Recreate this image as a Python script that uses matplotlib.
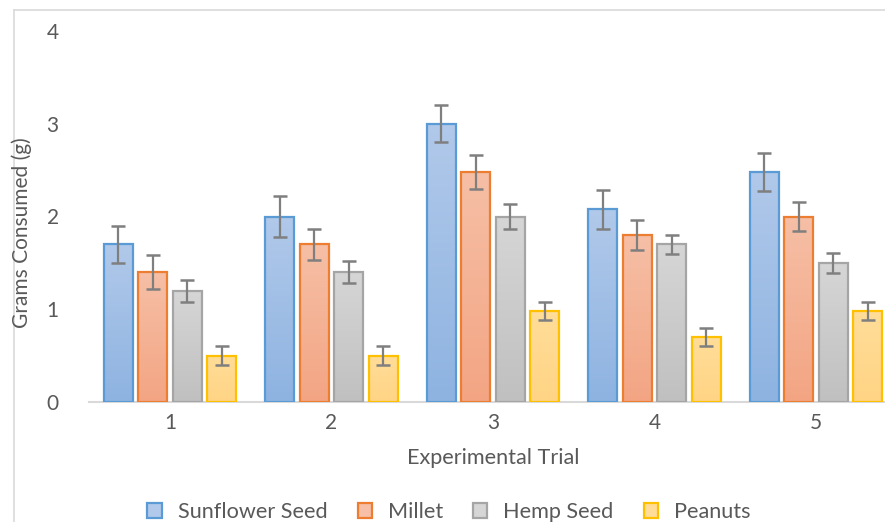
import numpy as np
import matplotlib
matplotlib.use("Agg")
import matplotlib.pyplot as plt
from matplotlib.colors import LinearSegmentedColormap
from matplotlib.patches import Patch
from matplotlib.lines import Line2D

plt.rcParams['font.family'] = ['Lato', 'DejaVu Sans']

trials = ['1', '2', '3', '4', '5']
series = ['Sunflower Seed', 'Millet', 'Hemp Seed', 'Peanuts']

sunflower = [1.7, 2.0, 3.0, 2.08, 2.48]
millet = [1.4, 1.7, 2.48, 1.8, 2.0]
hemp = [1.2, 1.4, 2.0, 1.7, 1.5]
peanuts = [0.5, 0.5, 0.98, 0.7, 0.98]

sunflower_err = [0.2, 0.22, 0.2, 0.21, 0.21]
millet_err = [0.18, 0.17, 0.18, 0.16, 0.16]
hemp_err = [0.12, 0.12, 0.13, 0.1, 0.11]
peanuts_err = [0.1, 0.1, 0.1, 0.1, 0.1]

values = [sunflower, millet, hemp, peanuts]
errors = [sunflower_err, millet_err, hemp_err, peanuts_err]

# edge colour, gradient top, gradient bottom
edge_cols = ['#5b9bd5', '#ed7d31', '#a5a5a5', '#ffc000']
top_cols = ['#b1c9ea', '#f6bfa6', '#d6d6d6', '#ffdd98']
bot_cols = ['#8eb3e1', '#f3a583', '#c0c0c0', '#ffd485']

fig = plt.figure(figsize=(8.85, 5.22), dpi=100)
W, H = 885, 522
ax = fig.add_axes([89.25 / W, 120 / H, 807.5 / W, 371 / H])

x = np.arange(1, len(trials) + 1)
bw = 0.18
pitch = 0.214

for i, name in enumerate(series):
    offs = (i - 1.5) * pitch
    bars = ax.bar(x + offs, values[i], width=bw, facecolor='none',
                  edgecolor=edge_cols[i], linewidth=1.6, zorder=3, label=name)
    cmap = LinearSegmentedColormap.from_list('g%d' % i, [bot_cols[i], top_cols[i]])
    for b in bars:
        x0, y0 = b.get_x(), b.get_y()
        w, h = b.get_width(), b.get_height()
        grad = np.linspace(0, 1, 100).reshape(-1, 1)
        im = ax.imshow(grad, cmap=cmap, origin='lower', aspect='auto',
                       extent=[x0, x0 + w, y0, y0 + h], zorder=2)
        im.set_clip_path(b)
    ax.errorbar(x + offs, values[i], yerr=errors[i], fmt='none',
                ecolor='#7f7f7f', elinewidth=1.6, capsize=5, capthick=1.8,
                zorder=4, clip_on=False)

ax.set_xlim(0.5, 5.5)
ax.set_ylim(0, 4)
ax.set_yticks([0, 1, 2, 3, 4])
ax.set_xticks(x)
ax.set_xticklabels(trials)
for s in ['top', 'right', 'left']:
    ax.spines[s].set_visible(False)
ax.spines['bottom'].set_color('#d9d9d9')
ax.spines['bottom'].set_linewidth(1.5)
ax.tick_params(axis='both', length=0, labelsize=15, labelcolor='#595959')
ax.tick_params(axis='y', pad=22)
ax.tick_params(axis='x', pad=8)

fig.text(493 / W, 1 - 458 / H, 'Experimental Trial', ha='center', va='center',
         fontsize=15.6, color='#595959')
fig.text(22 / W, 1 - 233 / H, 'Grams Consumed (g)', ha='center', va='center',
         rotation=90, fontsize=15, color='#595959')

handles = [Patch(facecolor=top_cols[i], edgecolor=edge_cols[i], linewidth=1.6)
           for i in range(len(series))]
fig.legend(handles, series, loc='center', bbox_to_anchor=(449 / W, 1 - 512 / H),
           ncol=4, frameon=False, fontsize=15.6, labelcolor='#595959',
           handlelength=0.65, handleheight=0.65, columnspacing=1.4,
           handletextpad=0.74, borderpad=0)

# chart area border (left and top visible)
fig.add_artist(Line2D([14 / W, 14 / W], [0, 1 - 10 / H], color='#d9d9d9', lw=1.2))
fig.add_artist(Line2D([14 / W, 1], [1 - 10 / H, 1 - 10 / H], color='#d9d9d9', lw=1.2))

fig.savefig('out.png', dpi=100)
